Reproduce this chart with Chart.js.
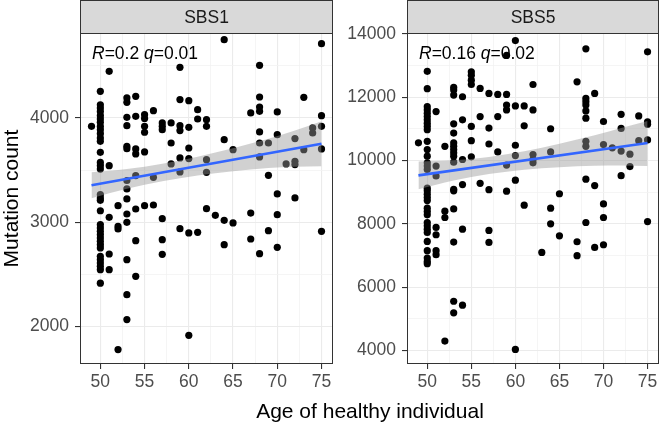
<!DOCTYPE html>
<html>
<head>
<meta charset="utf-8">
<script src="https://cdn.jsdelivr.net/npm/chart.js@4/dist/chart.umd.min.js"></script>
<style>
  html, body { margin: 0; padding: 0; background: #fff; }
  #wrap { position: relative; width: 663px; height: 428px; overflow: hidden; }
  canvas { position: absolute; top: 0; }
  #left { left: 0; }
  #right { left: 340px; }
  #xtitle {
    position: absolute; left: 170px; width: 400px; top: 399px;
    text-align: center; font: 21px 'Liberation Sans', Arial, sans-serif; color: #000;
    line-height: 24px;
  }
</style>
</head>
<body>
<div id="wrap">
  <canvas id="left" width="340" height="428"></canvas>
  <canvas id="right" width="323" height="428"></canvas>
  <div id="xtitle">Age of healthy individual</div>
</div>
<script>
const FONT = "'Liberation Sans', Arial, sans-serif";

// ages present in the cohort (no one aged 66)
const ages = [49, 50, 51, 52, 53, 54, 55, 56, 57, 58, 59, 60, 61, 62, 63, 64, 65, 67, 68, 69, 70, 71, 72, 73, 74, 75];

// SBS1 mutation counts, one list per age above
const sbs1ByAge = [
	[3920],
	[4256, 4127, 4095, 4063, 4022, 3990, 3958, 3919, 3887, 3849, 3808, 3776, 3670, 3574, 3542, 3510, 3264, 3232, 3210, 3110, 2977, 2945, 2913, 2881, 2849, 2817, 2785, 2753, 2673, 2641, 2609, 2577, 2545, 2415],
	[4447, 3542, 3047, 2695, 2545],
	[3159, 2960, 2935, 1778],
	[4192, 4150, 4006, 3926, 3728, 3705, 3400, 3319, 3223, 3079, 2999, 2641, 2305, 2066],
	[4208, 4016, 3703, 3655, 3447, 3127, 2823, 2481],
	[4032, 3995, 3920, 3863, 3674, 3159],
	[4070, 3431, 3165],
	[3952, 3920, 3888, 3034, 2833, 2692],
	[3952, 3760, 3559],
	[4486, 4176, 3926, 3879, 3617, 3482, 2938],
	[4166, 3910, 3712, 3610, 2897, 1915],
	[4080, 3990, 2903],
	[3984, 3920, 3600, 3479, 3130],
	[3066],
	[4751, 3792, 3018, 2785],
	[3696, 2993],
	[4048, 3088, 2839],
	[4505, 4201, 4105, 4064, 3866, 3760, 3626, 2698],
	[3760, 3450, 2919],
	[4058, 3840, 3271, 3072, 2759],
	[3559],
	[3802, 3585, 3553, 3233],
	[4198, 3696],
	[3904, 3856],
	[4713, 4022, 3920, 3703, 2913],
];

// SBS5 mutation counts, one list per age above
const sbs5ByAge = [
	[10560],
	[12820, 12270, 11703, 11599, 11494, 11390, 11286, 11181, 11077, 10972, 10607, 10346, 10137, 9928, 9824, 9720, 9125, 9041, 8937, 8832, 8735, 8494, 8389, 8283, 8042, 7937, 7832, 7727, 7444, 7150, 6918, 6813, 6740],
	[11547, 9824, 9511, 7885, 7654, 7150, 7024],
	[10450, 8400, 8200, 4293],
	[12309, 12225, 12069, 11160, 10868, 10555, 10450, 10346, 10242, 10137, 9949, 9093, 9041, 8472, 7423, 5553, 5186],
	[12016, 11286, 10033, 9240, 7832, 5428],
	[12799, 12695, 12538, 12403, 11077, 10628, 10116],
	[12277, 11390, 9280],
	[12121, 11025, 10523, 9080, 7790, 7412],
	[12090, 11390, 10273],
	[13321, 12090, 11755, 11599, 9855, 9030],
	[13791, 11724, 10482, 10158, 9380, 4031],
	[11724, 11098, 8588],
	[12403, 11599, 10189, 10033, 9928],
	[7097],
	[11004, 10273, 8494, 8000],
	[8950, 7622],
	[12486, 7433, 6992],
	[13530, 11964, 11860, 11755, 11567, 11338, 10607, 10450, 9410, 8042],
	[12121, 9210, 7254],
	[11233, 10503, 8630, 8200, 7339],
	[10400],
	[11460, 11015, 10300, 9520],
	[10200, 9810],
	[11410, 10628],
	[13434, 11225, 11150, 10650, 8070],
];

// linear fit ends and its confidence band
const fitAges = [49, 75];
const sbs1Fit = [3355, 3752];
const sbs5Fit = [9530, 10552];
const bandAges = [49, 53, 57, 61, 65, 69, 72, 75];
const sbs1Upper = [3480, 3511, 3562, 3629, 3710, 3800, 3880, 3968];
const sbs1Lower = [3230, 3321, 3392, 3449, 3490, 3520, 3532, 3538];
const sbs5Upper = [9970, 10007, 10114, 10292, 10529, 10796, 11024, 11250];
const sbs5Lower = [9090, 9367, 9574, 9712, 9789, 9836, 9844, 9830];

// correlation labels
const corrR = ['0.2', '0.16'];
const corrQ = ['0.01', '0.02'];

// axis ticks
const xTicks = [50, 55, 60, 65, 70, 75];
const sbs1Ticks = [2000, 3000, 4000];
const sbs5Ticks = [4000, 6000, 8000, 10000, 12000, 14000];

function flatten(byAge) {
	let pts = [];
	ages.forEach((a, i) => {
		byAge[i].forEach(v => pts.push({ x: a, y: v }));
	});
	return pts;
}

function pairs(xs, ys) {
	return xs.map((x, i) => ({ x: x, y: ys[i] }));
}

// major ticks plus ggplot style minor breaks halfway between
function withMinor(major, min, max) {
	const step = major[1] - major[0];
	let all = [{ value: major[0] - step / 2, minor: true }];
	major.forEach(v => {
		all.push({ value: v, minor: false });
		all.push({ value: v + step / 2, minor: true });
	});
	return all.filter(t => t.value >= min && t.value <= max);
}

const panelDecor = {
	id: 'panelDecor',
	afterDatasetsDraw(chart, args, opts) {
		const ctx = chart.ctx;
		const a = chart.chartArea;
		const l = Math.round(a.left) + 0.5;
		const r = Math.round(a.right) - 0.5;
		const t = Math.round(a.top) + 0.5;
		const b = Math.round(a.bottom) - 0.5;
		ctx.save();

		// strip
		ctx.fillStyle = '#d9d9d9';
		ctx.fillRect(l, 0.5, r - l, t - 0.5);
		ctx.strokeStyle = '#333333';
		ctx.lineWidth = 1;
		ctx.strokeRect(l, 0.5, r - l, t - 0.5);
		ctx.fillStyle = '#1a1a1a';
		ctx.font = '17.5px ' + FONT;
		ctx.textAlign = 'center';
		ctx.textBaseline = 'middle';
		ctx.fillText(opts.strip, (l + r) / 2, t / 2 + 1);

		// panel border
		ctx.strokeRect(l, t, r - l, b - t);

		// R / q label
		ctx.fillStyle = '#000';
		ctx.textAlign = 'left';
		ctx.textBaseline = 'alphabetic';
		let x = a.left + 12;
		const y = a.top + 26;
		[['R', true], ['=' + opts.r + ' ', false], ['q', true], ['=' + opts.q, false]].forEach(p => {
			ctx.font = (p[1] ? 'italic ' : '') + '17.5px ' + FONT;
			ctx.fillText(p[0], x, y);
			x += ctx.measureText(p[0]).width;
		});
		ctx.restore();
	}
};

function gridOpts() {
	return {
		color: c => (c.tick && c.tick.minor) ? '#f3f3f3' : '#ebebeb',
		lineWidth: c => (c.tick && c.tick.minor) ? 0.8 : 1.1,
		tickColor: c => (c.tick && c.tick.minor) ? 'rgba(0,0,0,0)' : '#333333',
		tickLength: 5,
		drawTicks: true,
	};
}

function tickFont() {
	return { family: FONT, size: 17.5 };
}

function makeChart(id, p) {
	return new Chart(document.getElementById(id), {
		type: 'scatter',
		data: {
			datasets: [
				{
					data: flatten(p.byAge),
					backgroundColor: '#000',
					borderWidth: 0,
					pointRadius: 3.6,
					order: 3,
				},
				{
					data: pairs(bandAges, p.upper),
					showLine: true,
					pointRadius: 0,
					borderWidth: 0,
					borderColor: 'rgba(0,0,0,0)',
					backgroundColor: 'rgba(153,153,153,0.45)',
					fill: '+1',
					cubicInterpolationMode: 'monotone',
					order: 2,
				},
				{
					data: pairs(bandAges, p.lower),
					showLine: true,
					pointRadius: 0,
					borderWidth: 0,
					borderColor: 'rgba(0,0,0,0)',
					fill: false,
					cubicInterpolationMode: 'monotone',
					order: 2,
				},
				{
					data: pairs(fitAges, p.fit),
					showLine: true,
					pointRadius: 0,
					borderColor: '#3366FF',
					borderWidth: 2.6,
					fill: false,
					order: 1,
				},
			],
		},
		options: {
			responsive: false,
			animation: false,
			events: [],
			devicePixelRatio: 1,
			layout: { padding: { top: 33, right: p.padRight, bottom: 24, left: 0 } },
			plugins: {
				legend: { display: false },
				tooltip: { enabled: false },
				panelDecor: { strip: p.strip, r: p.r, q: p.q },
			},
			scales: {
				x: {
					type: 'linear',
					min: 47.7,
					max: 76.3,
					afterBuildTicks: s => { s.ticks = withMinor(xTicks, s.min, s.max); },
					afterFit: s => { s.height = 40; },
					ticks: {
						autoSkip: false,
						maxRotation: 0,
						padding: 3,
						color: '#4d4d4d',
						font: tickFont(),
						callback: (v, i, t) => t[i].minor ? '' : String(v),
					},
					grid: gridOpts(),
					border: { display: false },
				},
				y: {
					type: 'linear',
					min: p.yMin,
					max: p.yMax,
					afterBuildTicks: s => { s.ticks = withMinor(p.yTicks, s.min, s.max); },
					afterFit: s => { s.width = p.yWidth; },
					ticks: {
						autoSkip: false,
						padding: 6,
						color: '#4d4d4d',
						font: tickFont(),
						callback: (v, i, t) => t[i].minor ? '' : String(v),
					},
					grid: gridOpts(),
					border: { display: false },
					title: {
						display: p.yTitle,
						text: 'Mutation count',
						color: '#000',
						font: { family: FONT, size: 21 },
						padding: 0,
					},
				},
			},
		},
		plugins: [panelDecor],
	});
}

makeChart('left', {
	byAge: sbs1ByAge, upper: sbs1Upper, lower: sbs1Lower, fit: sbs1Fit,
	yTicks: sbs1Ticks, yMin: 1640, yMax: 4815, yWidth: 80, yTitle: true,
	padRight: 7, strip: 'SBS1', r: corrR[0], q: corrQ[0],
});
makeChart('right', {
	byAge: sbs5ByAge, upper: sbs5Upper, lower: sbs5Lower, fit: sbs5Fit,
	yTicks: sbs5Ticks, yMin: 3570, yMax: 14030, yWidth: 67, yTitle: false,
	padRight: 2, strip: 'SBS5', r: corrR[1], q: corrQ[1],
});
</script>
</body>
</html>
